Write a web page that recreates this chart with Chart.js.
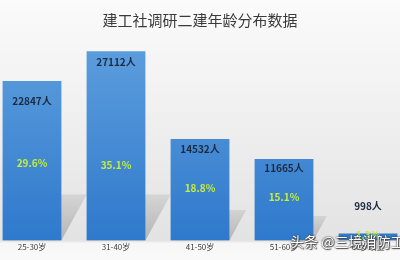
<!DOCTYPE html>
<html>
<head>
<meta charset="utf-8">
<script src="https://cdn.jsdelivr.net/npm/chart.js@4"></script>
<style>
  html, body { margin: 0; padding: 0; }
  body {
    width: 400px; height: 260px; overflow: hidden; position: relative;
    background: linear-gradient(to bottom, #fbfbfb 0px, #f3f3f3 80px, #e3e3e3 241px, #f6f6f6 243px, #fafafa 260px);
    font-family: "Noto Sans CJK SC", "Noto Sans", sans-serif;
  }
  #wrap { position: absolute; left: -10px; top: 0; width: 420px; height: 260px; }
  #mark {
    position: absolute; left: 290px; top: 233px; font-size: 14px; line-height: 16px; color: #fff; white-space: nowrap;
    text-shadow: 0 0 1px #333, 0 0 2px #333, 1px 1px 1px #555;
  }
</style>
</head>
<body>
<div id="wrap"><canvas id="myChart" width="420" height="260"></canvas></div>
<div id="mark">头条 @三境消防工程师</div>
<script>
const categories = ["25-30岁", "31-40岁", "41-50岁", "51-60岁", "60岁以上"];
const counts = [22847, 27112, 14532, 11665, 998];
const shares = [29.6, 35.1, 18.8, 15.1, 1.3];

// label nudges in px (the source placed them by hand)
const countDy = [20, 11, 10, 9, -27];
const shareDy = [3, 19, -1, -2, -2];

const shadowPlugin = {
    id: 'barShadows',
    beforeDatasetsDraw(chart) {
        const c = chart.ctx;
        const meta = chart.getDatasetMeta(0);
        meta.data.forEach(bar => {
            const w = bar.width;
            const h = bar.base - bar.y;
            const dy = Math.min(46, h * 0.3);
            const dx = dy * 0.55;
            const l = bar.x - w / 2, r = bar.x + w / 2, b = bar.base;
            const g = c.createLinearGradient(0, b - dy, 0, b);
            g.addColorStop(0, 'rgba(0,0,0,0.08)');
            g.addColorStop(1, 'rgba(0,0,0,0.2)');
            c.save();
            c.fillStyle = g;
            c.beginPath();
            c.moveTo(l, b);
            c.lineTo(r, b);
            c.lineTo(r + dx, b - dy);
            c.lineTo(l + dx, b - dy);
            c.closePath();
            c.fill();
            c.restore();
        });
    }
};

const labelPlugin = {
    id: 'barLabels',
    afterDatasetsDraw(chart) {
        const c = chart.ctx;
        const meta = chart.getDatasetMeta(0);
        c.save();
        c.textAlign = 'center';
        c.textBaseline = 'middle';
        c.font = 'bold 10px "Noto Sans CJK SC", "Noto Sans", sans-serif';
        meta.data.forEach((bar, i) => {
            c.fillStyle = '#1c2b40';
            c.fillText(counts[i] + '人', bar.x, bar.y + countDy[i]);
            c.fillStyle = '#c4ee3a';
            c.fillText(shares[i].toFixed(1) + '%', bar.x, (bar.y + bar.base) / 2 + shareDy[i]);
        });
        c.restore();
    }
};

const ctx = document.getElementById('myChart');
new Chart(ctx, {
    type: 'bar',
    data: {
        labels: categories,
        datasets: [{
            data: counts,
            backgroundColor: (context) => {
                const area = context.chart.chartArea;
                if (!area) return '#4a8fd8';
                const g = context.chart.ctx.createLinearGradient(0, area.top, 0, area.bottom);
                g.addColorStop(0, '#60a0de');
                g.addColorStop(1, '#2f79cc');
                return g;
            },
            borderWidth: 0,
            barPercentage: 0.7,
            categoryPercentage: 1
        }]
    },
    options: {
        responsive: false,
        animation: false,
        layout: { padding: { top: 0, bottom: 6, left: 0, right: 0 } },
        plugins: {
            legend: { display: false },
            tooltip: { enabled: false },
            title: {
                display: true,
                text: '建工社调研二建年龄分布数据',
                color: '#3a3a3a',
                font: { size: 15, family: '"Noto Sans CJK SC", sans-serif', weight: 'normal' },
                padding: { top: 11, bottom: 2 }
            }
        },
        scales: {
            x: {
                grid: { display: false, drawTicks: false },
                border: { display: false },
                ticks: {
                    color: '#404040',
                    font: { size: 8, family: '"Noto Sans CJK SC", sans-serif' },
                    padding: 2,
                    maxRotation: 0,
                    autoSkip: false
                }
            },
            y: {
                display: false,
                min: 0,
                max: 30000
            }
        }
    },
    plugins: [shadowPlugin, labelPlugin]
});
</script>
</body>
</html>
